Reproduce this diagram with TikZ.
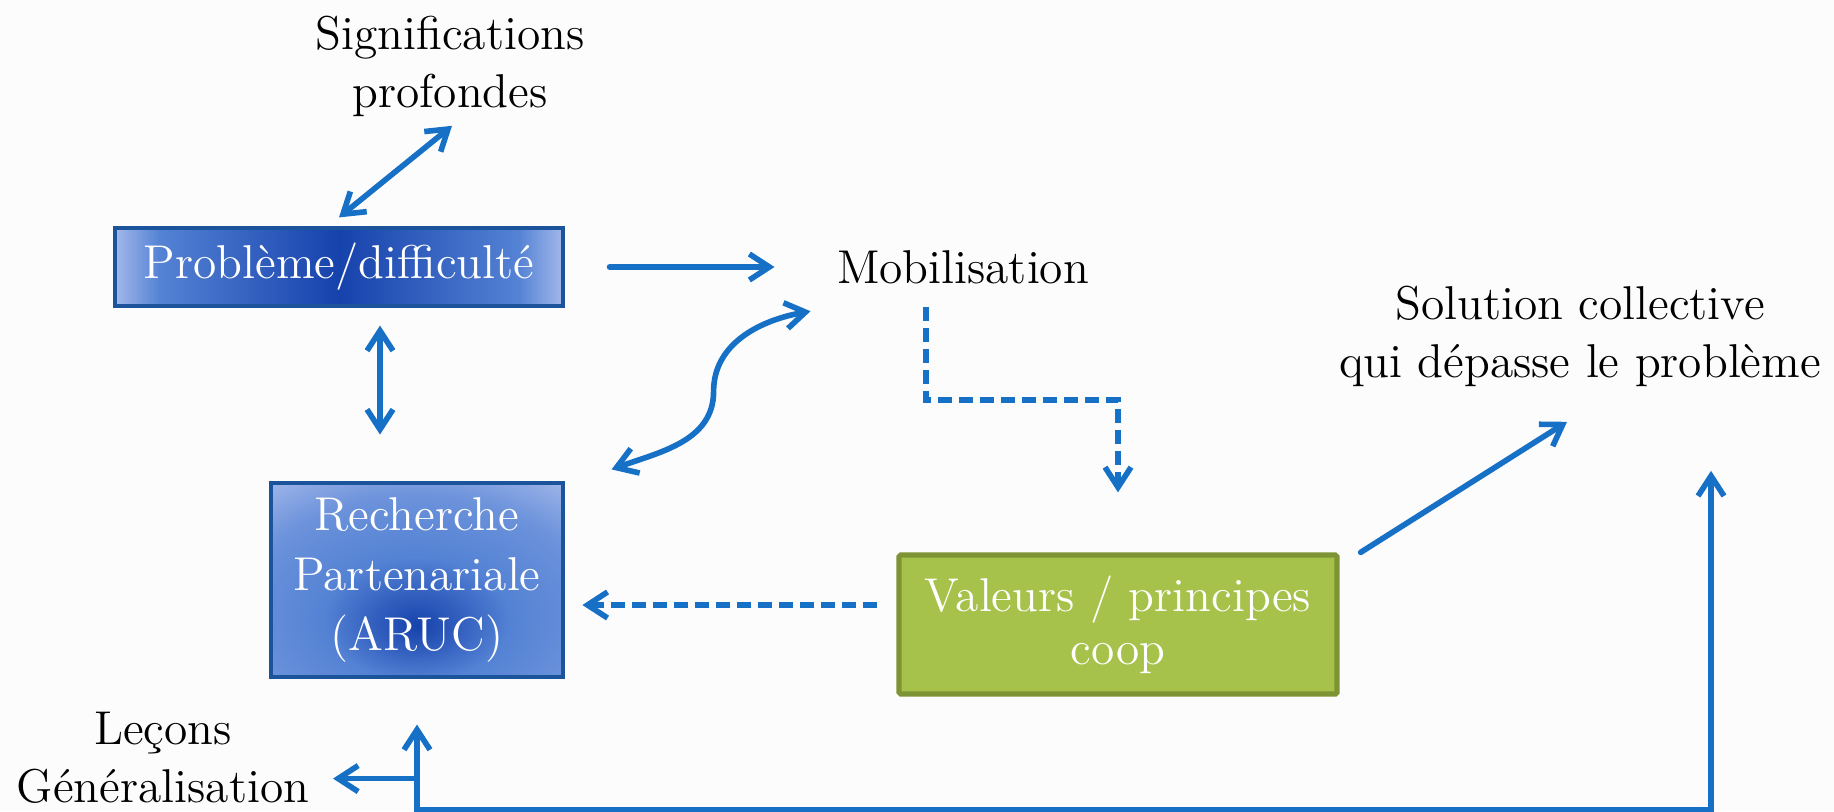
\documentclass[tikz,border=0pt]{standalone}
\usepackage{xcolor}
\definecolor{colorArrow}{RGB}{21,112,198}
\definecolor{colorBoxLight}{RGB}{163,184,234}
\definecolor{colorBoxMid}{RGB}{84,130,212}
\definecolor{colorBoxDark}{RGB}{22,66,172}
\definecolor{colorBoxBorder}{RGB}{28,84,156}
\definecolor{colorValFill}{RGB}{166,194,74}
\definecolor{colorValBorder}{RGB}{126,148,52}
\definecolor{colorBg}{RGB}{252,252,252}
\usepackage{tikz}
\usetikzlibrary{arrows.meta}
\pgfdeclarehorizontalshading{probShade}{100bp}{color(0bp)=(colorBoxLight); color(25bp)=(colorBoxLight); color(30bp)=(colorBoxMid); color(50bp)=(colorBoxDark); color(70bp)=(colorBoxMid); color(75bp)=(colorBoxLight); color(100bp)=(colorBoxLight)}
\pgfdeclareradialshading{rechShade}{\pgfpoint{0bp}{-12bp}}{color(0bp)=(colorBoxDark); color(16bp)=(colorBoxMid); color(30bp)=(colorBoxMid!70!colorBoxLight); color(42bp)=(colorBoxLight); color(100bp)=(colorBoxLight)}
\tikzset{
  bluebox/.style={draw=colorBoxBorder, line width=0.9pt, text=white, align=center, inner sep=0pt},
  valbox/.style={draw=colorValBorder, line width=1.5pt, fill=colorValFill, rounded corners=0.5pt, text=white, align=center, inner sep=0pt},
  label/.style={align=center}
}

\begin{document}
\begin{tikzpicture}[>={Straight Barb[length=2mm,width=2.6mm]}, line width=1.6pt, line cap=round, every node/.style={font=\fontsize{13.5}{16.5}\selectfont}]
\useasboundingbox (0,0) rectangle (18.34,8.11);
\fill[colorBg] (0,0) rectangle (18.34,8.11);
% nodes
\node[label] (sig) at (4.50,7.45) {Significations\\profondes};
\node[bluebox, minimum width=4.48cm, minimum height=0.78cm, shading=probShade] (prob) at (3.39,5.44) {Problème/difficulté};
\node[label] (mob) at (9.63,5.44) {Mobilisation};
\node[bluebox, minimum width=2.92cm, minimum height=1.94cm, shading=rechShade, font=\fontsize{13.5}{17}\selectfont] (rech) at (4.17,2.31) {Recherche\\Partenariale\\(ARUC)};
\node[valbox, minimum width=4.38cm, minimum height=1.39cm, font=\fontsize{13.5}{15}\selectfont] (val) at (11.18,1.865) {Valeurs / principes\\coop};
\node[label] (sol) at (15.80,4.75) {Solution collective\\qui dépasse le problème};
\node[label] (lec) at (1.63,0.53) {Leçons\\Généralisation};
% connectors
\draw[<->, colorArrow] ([yshift=0.9mm]prob.north) -- ([xshift=0.2mm,yshift=0.5mm]sig.south);
\draw[->, colorArrow] ([xshift=4.5mm]prob.east) -- ([xshift=-4.8mm]mob.west);
\draw[<->, colorArrow] ([xshift=4.1mm,yshift=-1.8mm]prob.south) -- ++(0,-1.09);
\draw[<->, colorArrow] ([xshift=4.7mm,yshift=1.2mm]rech.north east) to[out=20,in=-90] ++(1.02,0.78) to[out=90,in=190] ([xshift=-1.2mm,yshift=-1.3mm]mob.south west);
\draw[->, colorArrow, dash pattern=on 1.4mm off 0.7mm, line cap=butt] ([xshift=-3.7mm,yshift=-0.9mm]mob.south) -- ++(0,-0.93) -| ([yshift=6mm]val.north);
\draw[->, colorArrow, dash pattern=on 1.4mm off 0.7mm, line cap=butt] ([xshift=-1.9mm,yshift=1.95mm]val.west) -- ++(-2.95,0);
\draw[->, colorArrow] ([xshift=2.1mm]val.north east) -- ([xshift=-1.3mm,yshift=-2.1mm]sol.south);
\draw[<->, colorArrow, line cap=butt] ([yshift=-4.6mm]rech.south) -- ++(0,-0.85) -| ([xshift=13.1mm,yshift=-7mm]sol.south);
\draw[->, colorArrow] ([yshift=-10mm]rech.south) -- ++(-0.84,0);
\end{tikzpicture}
\end{document}
